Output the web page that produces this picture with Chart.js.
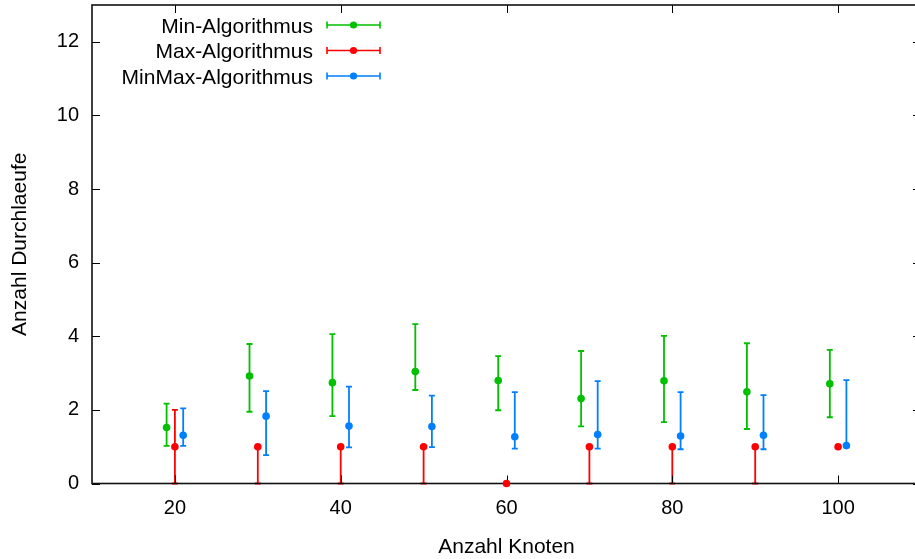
<!DOCTYPE html>
<html><head><meta charset="utf-8">
<script src="https://cdn.jsdelivr.net/npm/chart.js@4.4.1/dist/chart.umd.min.js"></script>
<style>
html,body{margin:0;padding:0;background:#fff;overflow:hidden;}
#wrap{width:915px;height:559px;overflow:hidden;position:relative;background:#fff;}
canvas{display:block;}
</style>
</head><body>
<div id="wrap"><canvas id="c" width="930" height="559"></canvas></div>
<script>
// ---- data ----
const nodes = [20, 30, 40, 50, 60, 70, 80, 90, 100];

const minMean = [1.52, 2.92, 2.74, 3.04, 2.80, 2.31, 2.79, 2.49, 2.71];
const minLow  = [1.02, 1.95, 1.83, 2.54, 1.99, 1.55, 1.67, 1.48, 1.80];
const minHigh = [2.17, 3.79, 4.06, 4.33, 3.46, 3.60, 4.01, 3.81, 3.63];

const maxMean = [1, 1, 1, 1, 0, 1, 1, 1, 1];
const maxLow  = [0, 0, 0, 0, 0, 0, 0, 0, 1];
const maxHigh = [2, 1, 1, 1, 0, 1, 1, 1, 1];

const minmaxMean = [1.31, 1.83, 1.56, 1.55, 1.27, 1.33, 1.29, 1.31, 1.03];
const minmaxLow  = [1.02, 0.77, 0.98, 0.99, 0.95, 0.95, 0.93, 0.93, 0.98];
const minmaxHigh = [2.04, 2.51, 2.63, 2.39, 2.48, 2.78, 2.48, 2.40, 2.81];

const xTicks = [20, 40, 60, 80, 100];
const yTicks = [0, 2, 4, 6, 8, 10, 12];

const seriesNames = ['Min-Algorithmus', 'Max-Algorithmus', 'MinMax-Algorithmus'];
const seriesOffset = [-1, 0, 1];
const xTitle = 'Anzahl Knoten';
const yTitle = 'Anzahl Durchlaeufe';

// ---- styling ----
const colors = ['#00c000', '#ff0000', '#0080ff'];
const FONT = "'Liberation Sans', Arial, Helvetica, sans-serif";

function build(mean, low, high, off) {
  return nodes.map((n, i) => ({ x: n + off, y: mean[i], yMin: low[i], yMax: high[i] }));
}
const seriesData = [
  build(minMean, minLow, minHigh, seriesOffset[0]),
  build(maxMean, maxLow, maxHigh, seriesOffset[1]),
  build(minmaxMean, minmaxLow, minmaxHigh, seriesOffset[2])
];

const datasets = seriesData.map((d, k) => ({
  label: seriesNames[k],
  data: d,
  backgroundColor: colors[k],
  borderColor: colors[k],
  pointRadius: 3.8,
  pointHoverRadius: 3.8,
  pointBorderWidth: 0,
  showLine: false,
  clip: false
}));

const CAP = 3;

const decor = {
  id: 'decor',
  beforeDatasetsDraw(chart) {
    const ctx = chart.ctx, xs = chart.scales.x, ys = chart.scales.y, a = chart.chartArea;
    ctx.save();
    // error bars
    chart.data.datasets.forEach((ds, k) => {
      ctx.strokeStyle = colors[k];
      ctx.lineWidth = 1.8;
      ds.data.forEach(p => {
        if (p.yMin === p.yMax) return;
        const px = xs.getPixelForValue(p.x);
        const y1 = ys.getPixelForValue(p.yMin), y2 = ys.getPixelForValue(p.yMax);
        ctx.beginPath();
        ctx.moveTo(px, y1); ctx.lineTo(px, y2);
        ctx.moveTo(px - CAP, y1); ctx.lineTo(px + CAP, y1);
        ctx.moveTo(px - CAP, y2); ctx.lineTo(px + CAP, y2);
        ctx.stroke();
      });
    });
    // ticks (inward, mirrored)
    ctx.strokeStyle = '#000';
    ctx.lineWidth = 1;
    ctx.beginPath();
    xTicks.forEach(v => {
      const px = Math.round(xs.getPixelForValue(v)) + 0.5;
      ctx.moveTo(px, a.bottom); ctx.lineTo(px, a.bottom - 8);
      ctx.moveTo(px, a.top); ctx.lineTo(px, a.top + 8);
    });
    yTicks.forEach(v => {
      const py = Math.round(ys.getPixelForValue(v)) + 0.5;
      ctx.moveTo(a.left, py); ctx.lineTo(a.left + 8, py);
      ctx.moveTo(a.right, py); ctx.lineTo(a.right - 8, py);
    });
    ctx.stroke();
    // frame
    ctx.lineWidth = 1.6;
    ctx.strokeStyle = '#111';
    ctx.strokeRect(a.left, a.top, a.right - a.left, a.bottom - a.top);
    // axis titles
    ctx.fillStyle = '#000';
    ctx.font = '21px ' + FONT;
    ctx.textAlign = 'center';
    ctx.textBaseline = 'alphabetic';
    ctx.fillText(xTitle, (a.left + a.right) / 2, 553);
    ctx.save();
    ctx.translate(26, (a.top + a.bottom) / 2);
    ctx.rotate(-Math.PI / 2);
    ctx.fillText(yTitle, 0, 0);
    ctx.restore();
    ctx.restore();
  },
  afterDraw(chart) {
    const ctx = chart.ctx;
    ctx.save();
    ctx.font = '21px ' + FONT;
    ctx.textAlign = 'right';
    ctx.textBaseline = 'alphabetic';
    seriesNames.forEach((name, k) => {
      const cy = 25 + k * 25.5;
      ctx.fillStyle = '#000';
      ctx.fillText(name, 313, cy + 7.5);
      ctx.strokeStyle = colors[k];
      ctx.lineWidth = 1.6;
      ctx.beginPath();
      ctx.moveTo(327, cy); ctx.lineTo(380, cy);
      ctx.moveTo(327, cy - 3.5); ctx.lineTo(327, cy + 3.5);
      ctx.moveTo(380, cy - 3.5); ctx.lineTo(380, cy + 3.5);
      ctx.stroke();
      ctx.fillStyle = colors[k];
      ctx.beginPath();
      ctx.arc(353.5, cy, 3.6, 0, Math.PI * 2);
      ctx.fill();
    });
    ctx.restore();
  }
};

function zeroPad(s) {
  s.paddingTop = 0; s.paddingBottom = 0; s.paddingLeft = 0; s.paddingRight = 0;
}

new Chart(document.getElementById('c'), {
  type: 'scatter',
  data: { datasets },
  options: {
    responsive: false,
    animation: false,
    devicePixelRatio: 1,
    layout: { padding: { left: 0, top: 5, right: 9, bottom: 0 } },
    plugins: { legend: { display: false }, tooltip: { enabled: false } },
    events: [],
    scales: {
      x: {
        type: 'linear', position: 'bottom', min: 10, max: 110,
        afterBuildTicks: s => { s.ticks = xTicks.map(v => ({ value: v })); },
        afterFit: s => { s.height = 75.5; zeroPad(s); },
        grid: { display: false, drawTicks: false },
        border: { display: false },
        ticks: { color: '#000', padding: 13, font: { family: FONT, size: 20 }, maxRotation: 0 }
      },
      y: {
        type: 'linear', position: 'left', min: 0, max: 13,
        afterBuildTicks: s => { s.ticks = yTicks.map(v => ({ value: v })); },
        afterFit: s => { s.width = 92; zeroPad(s); },
        grid: { display: false, drawTicks: false },
        border: { display: false },
        ticks: { color: '#000', padding: 13, font: { family: FONT, size: 20 } }
      }
    }
  },
  plugins: [decor]
});
</script>
</body></html>
